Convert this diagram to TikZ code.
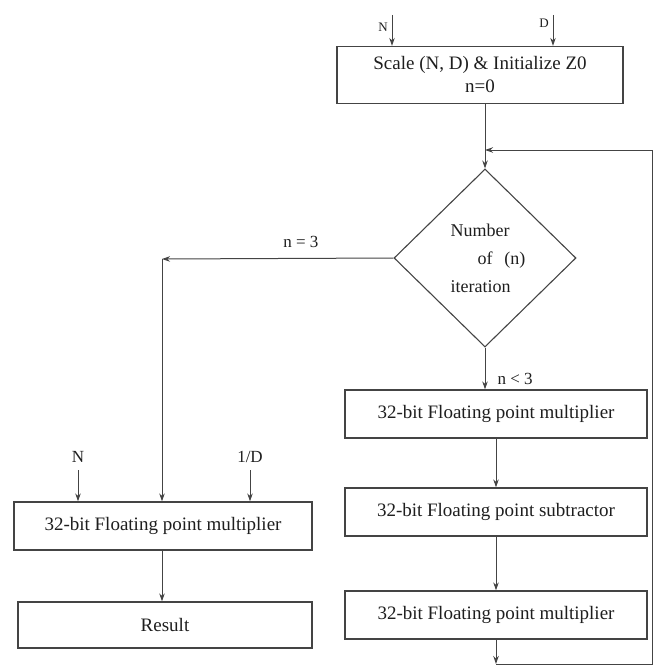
\documentclass[tikz,border=0pt]{standalone}
\usepackage{fontspec}
\setmainfont{Liberation Serif}
\usetikzlibrary{shapes.geometric,arrows.meta,calc}
\definecolor{ink}{HTML}{1E1E1E}
\definecolor{wire}{HTML}{444444}
\tikzset{
  blk/.style={draw=wire, line width=1.3pt, rectangle, inner sep=0pt, text=ink,
    font=\fontsize{19}{23}\selectfont},
  decide/.style={draw=wire, line width=1.1pt, diamond, inner sep=0pt,
    minimum width=182pt, minimum height=178pt, text=ink,
    font=\fontsize{18}{28}\selectfont},
  lbl/.style={text=ink, inner sep=0pt, font=\fontsize{17}{20}\selectfont},
  smalllbl/.style={text=ink, inner sep=0pt, font=\fontsize{13}{15}\selectfont},
  flow/.style={draw=wire, line width=1pt, -{Stealth[length=8pt,width=5.5pt]}},
}
\begin{document}
\begin{tikzpicture}[x=1pt,y=-1pt]
\useasboundingbox (0,0) rectangle (661,666);

% initialisation block and its two inputs
\node[blk, minimum width=286pt, minimum height=57pt, align=center] (init) at (480,75)
  {Scale (N, D) \& Initialize Z0\\[0pt]n=0};
\coordinate (nin) at (392,15);
\coordinate (din) at (553,15);
\node[smalllbl, anchor=east] (nlab) at (388,27) {N};
\node[smalllbl, anchor=east] (dlab) at (549,23) {D};
\draw[flow] (nin) -- (nin |- init.north);
\draw[flow] (din) -- (din |- init.north);

% iteration test
\node[decide, align=left] (test) at (485,258)
  {\hspace*{6pt}Number\\\hspace*{33pt}of\hspace{12pt}(n)\\\hspace*{6pt}iteration};
\draw[flow] (init.south -| test.north) -- (test.north);

% Newton-Raphson step (right column)
\node[blk, minimum width=302pt, minimum height=48pt] (mulA) at (496,414)
  {32-bit Floating point multiplier};
\node[blk, minimum width=302pt, minimum height=48pt] (sub) at (496,512)
  {32-bit Floating point subtractor};
\node[blk, minimum width=302pt, minimum height=48pt] (mulB) at (496,615)
  {32-bit Floating point multiplier};
\draw[flow] (test.south) -- (test.south |- mulA.north)
  node[lbl, pos=0.75, right=12pt] (ltlab) {n < 3};
\draw[flow] (mulA.south) -- (sub.north);
\draw[flow] (sub.south) -- (mulB.north);

% feedback path back to the test
\coordinate (fbA) at (496,664);
\coordinate (fbB) at (652,664);
\coordinate (fbC) at (652,150);
\draw[flow] (mulB.south) -- (fbA);
\draw[flow] (fbA) -- (fbB) -- (fbC) -- (test.north |- fbC);

% final product (left column)
\node[blk, minimum width=298pt, minimum height=48pt] (mulF) at (163,526)
  {32-bit Floating point multiplier};
\node[blk, minimum width=294pt, minimum height=46pt] (res) at (165,625)
  {Result};
\coordinate (turn) at (162,259);
\draw[flow] (test.west) -- (turn)
  node[lbl, pos=0.4, above=10pt] (eqlab) {n = 3};
\draw[flow] (turn) -- (turn |- mulF.north);
\coordinate (nsrc) at (78,470);
\coordinate (dsrc) at (250,470);
\node[lbl, anchor=south] (nlab2) at (78,463) {N};
\node[lbl, anchor=south] (dlab2) at (250,463) {1/D};
\draw[flow] (nsrc) -- (nsrc |- mulF.north);
\draw[flow] (dsrc) -- (dsrc |- mulF.north);
\draw[flow] (mulF.south -| turn) -- (res.north -| turn);
\end{tikzpicture}
\end{document}
